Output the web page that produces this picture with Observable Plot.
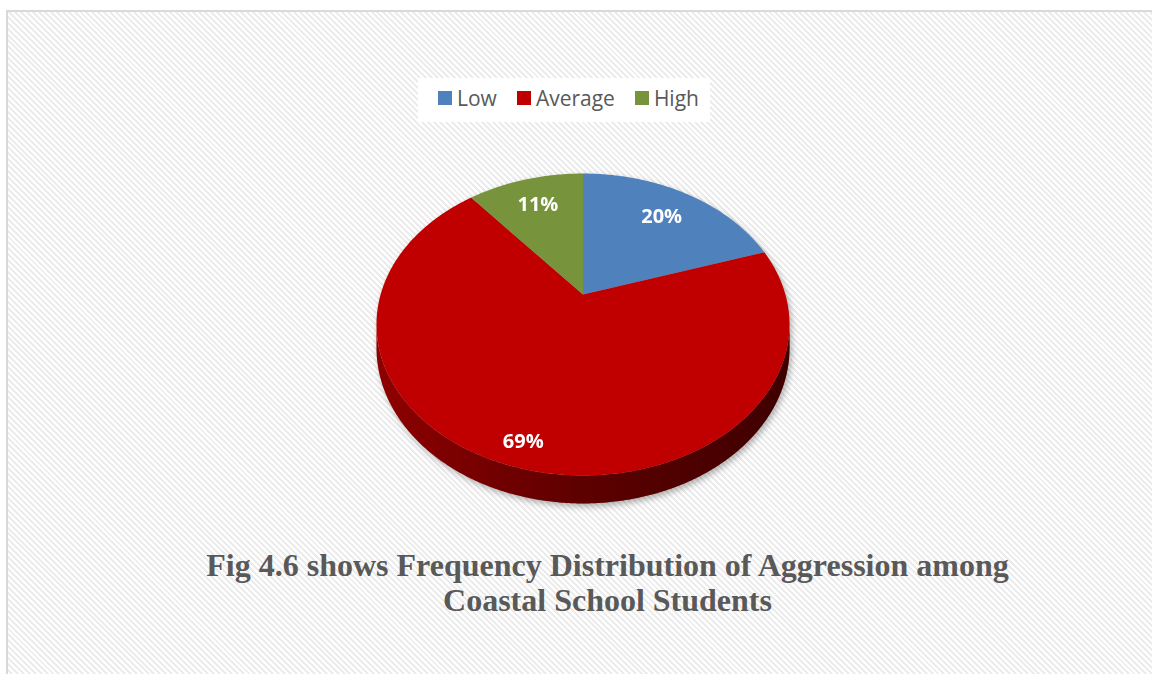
<!DOCTYPE html>
<html><head><meta charset="utf-8">
<script src="https://cdn.jsdelivr.net/npm/d3@7"></script>
<script src="https://cdn.jsdelivr.net/npm/@observablehq/plot@0.6"></script>
<style>
html,body{margin:0;padding:0;background:#fff;width:1152px;height:674px;overflow:hidden;position:relative;}
#frame{position:absolute;left:6px;top:10px;width:1230px;height:720px;border:2px solid #d9d9d9;box-sizing:border-box;
  background:repeating-linear-gradient(45deg,#ffffff 0px,#ffffff 2.1px,#ececec 2.1px,#ececec 4.2px);}
#chart{position:absolute;left:0;top:0;}
#chart svg{filter:drop-shadow(2px 3px 3px rgba(0,0,0,0.3));}
#legend{position:absolute;left:418px;top:78px;width:292px;height:44px;background:#fff;display:flex;align-items:center;padding-left:20px;padding-bottom:4px;box-sizing:border-box;overflow:hidden;}
#legend .lg-swatches{margin:0 !important;min-height:0 !important;flex-wrap:nowrap !important;white-space:nowrap;width:max-content;}
#legend .lg-swatch{margin-right:20px !important;white-space:nowrap;}
#legend .lg-swatch > svg{margin-right:5px !important;}
#title{position:absolute;left:0;width:1215px;top:548px;text-align:center;font-family:"Liberation Serif","Times New Roman",serif;font-weight:bold;font-size:32px;line-height:34.5px;color:#595959;}
</style></head>
<body>
<svg width="0" height="0" style="position:absolute">
  <defs>
    <linearGradient id="sideShade" x1="0" y1="0" x2="1" y2="0">
      <stop offset="0" stop-color="#000" stop-opacity="0.08"/>
      <stop offset="0.5" stop-color="#000" stop-opacity="0.4"/>
      <stop offset="1" stop-color="#000" stop-opacity="0.6"/>
    </linearGradient>
  </defs>
</svg>
<div id="frame"></div>
<div id="chart"></div>
<div id="legend"></div>
<div id="title">Fig 4.6 shows Frequency Distribution of Aggression among<br>Coastal School Students</div>
<script>
// ---- data ----
const categories = ["Low", "Average", "High"];
const values = [20, 69, 11];
const colors = ["#4f81bd", "#c00000", "#77933c"];
const labels = ["20%", "69%", "11%"];

// ---- 3D perspective geometry (unit pie) ----
const K = 0.1987;   // perspective strength
const DEPTH = 0.1546; // pie thickness in y units
const labelR = [0.74, 0.88, 0.75];
const total = d3.sum(values);
function proj(theta, r = 1, drop = 0) {
  const u = r * Math.sin(theta), v = -r * Math.cos(theta);
  const w = 1 - K * v;
  return {x: u / w, y: (v + drop) / w};
}
function arcPts(a0, a1, drop) {
  const n = Math.max(2, Math.ceil(Math.abs(a1 - a0) / (Math.PI / 360)));
  const pts = [];
  for (let i = 0; i <= n; i++) pts.push(proj(a0 + (a1 - a0) * i / n, 1, drop));
  return pts;
}
let cum = 0;
const slices = categories.map((key, i) => {
  const a0 = 2 * Math.PI * cum / total;
  cum += values[i];
  const a1 = 2 * Math.PI * cum / total;
  return {key, i, a0, a1, mid: (a0 + a1) / 2};
});
// top faces
const topRows = slices.flatMap(s => [{key: s.key, ...proj(0, 0)}, ...arcPts(s.a0, s.a1, 0).map(p => ({key: s.key, ...p}))]);
// visible side range (front)
const visL = Math.acos(-K), visR = 2 * Math.PI - Math.acos(-K);
function sidePoly(s0, s1) {
  return [...arcPts(s0, s1, 0), ...arcPts(s1, s0, DEPTH)];
}
const sideMarks = slices.map(s => {
  const s0 = Math.max(s.a0, visL), s1 = Math.min(s.a1, visR);
  if (s1 <= s0) return null;
  return Plot.line(sidePoly(s0, s1), {x: "x", y: "y", fill: d3.color(colors[s.i]).darker(0.6).formatHex(), stroke: "none", curve: "linear"});
}).filter(Boolean);
const shadeRows = sidePoly(visL, visR);
const labelRows = slices.map(s => ({text: labels[s.i], ...proj(s.mid, labelR[s.i])}));

const plot = Plot.plot({
  width: 1152, height: 674,
  margin: 0,
  style: {background: "transparent", overflow: "visible"},
  x: {domain: [-1, 1], range: [380.1, 784.9], axis: null},
  y: {domain: [-1, 1], range: [149, 439], axis: null},
  color: {domain: categories, range: colors},
  marks: [
    ...sideMarks,
    Plot.line(shadeRows, {x: "x", y: "y", fill: "url(#sideShade)", stroke: "none"}),
    Plot.line(topRows, {x: "x", y: "y", z: "key", fill: "key", stroke: "none"}),
    Plot.text(labelRows, {x: "x", y: "y", text: "text", fill: "white", fontSize: 20, fontWeight: "bold", fontFamily: "Open Sans"})
  ]
});
document.getElementById("chart").appendChild(plot);
const lg = plot.legend("color", {
  className: "lg",
  swatchSize: 14,
  style: {fontFamily: "Open Sans", fontSize: "21px", color: "#595959", margin: "0"}
});
document.getElementById("legend").appendChild(lg);
</script>
</body></html>
